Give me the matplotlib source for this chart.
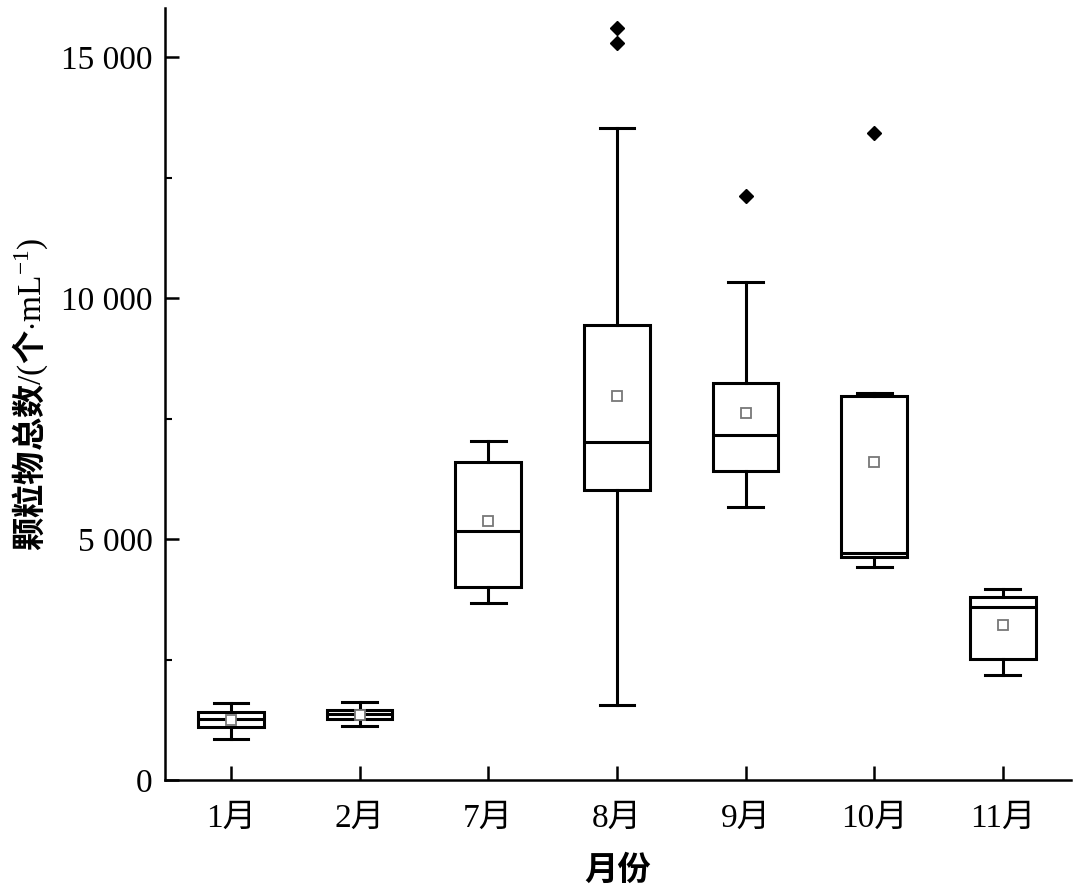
import matplotlib
matplotlib.use("Agg")
import matplotlib.pyplot as plt
from matplotlib.ticker import FixedLocator, FuncFormatter

months = ["1月", "2月", "7月", "8月", "9月", "10月", "11月"]
whislo = [850, 1120, 3670, 1560, 5660, 4420, 2180]
q1 = [1100, 1265, 4000, 6015, 6410, 4625, 2510]
med = [1265, 1370, 5165, 7010, 7155, 4710, 3590]
q3 = [1410, 1450, 6595, 9440, 8235, 7965, 3795]
whishi = [1600, 1620, 7030, 13520, 10330, 8030, 3960]
means = [1250, 1340, 5370, 7965, 7610, 6595, 3215]
fliers = [[], [], [], [15600, 15285], [12110], [13420], []]

plt.rcParams["mathtext.fontset"] = "custom"
plt.rcParams["mathtext.rm"] = "Liberation Serif"
plt.rcParams["mathtext.it"] = "Liberation Serif:italic"
plt.rcParams["mathtext.bf"] = "Liberation Serif:bold"

serif = ["Liberation Serif", "Noto Sans CJK SC"]
cjk = ["Noto Sans CJK SC", "Liberation Serif"]

fig = plt.figure(figsize=(10.8, 8.89), dpi=100)
ax = fig.add_axes([0.1528, 0.1226, 0.8389, 0.8684])

stats = []
for i in range(len(months)):
    stats.append(dict(label=months[i], whislo=whislo[i], q1=q1[i], med=med[i],
                      q3=q3[i], whishi=whishi[i], mean=means[i], fliers=fliers[i]))

pos = list(range(1, len(months) + 1))
ax.bxp(stats, positions=pos, widths=0.51, showmeans=True, patch_artist=True,
       boxprops=dict(facecolor="white", edgecolor="black", linewidth=2.2),
       whiskerprops=dict(color="black", linewidth=2.2),
       capprops=dict(color="black", linewidth=2.2),
       medianprops=dict(color="black", linewidth=2.2),
       meanprops=dict(marker="s", markerfacecolor="white", markeredgecolor="#777777",
                      markersize=6.5, markeredgewidth=1.3),
       flierprops=dict(marker="D", markerfacecolor="black", markeredgecolor="black",
                       markersize=7.5),
       capwidths=0.27)

ax.set_xlim(0.488, 7.53)
ax.set_ylim(0, 16017)

for s in ["top", "right"]:
    ax.spines[s].set_visible(False)
for s in ["left", "bottom"]:
    ax.spines[s].set_linewidth(1.8)

ax.yaxis.set_major_locator(FixedLocator([0, 5000, 10000, 15000]))
ax.yaxis.set_minor_locator(FixedLocator([2500, 7500, 12500]))
ax.yaxis.set_major_formatter(FuncFormatter(lambda v, p: f"{int(v):,}".replace(",", " ")))
ax.tick_params(axis="y", which="major", direction="in", length=10, width=1.8, pad=9)
ax.tick_params(axis="y", which="minor", direction="in", length=5, width=1.5)
ax.tick_params(axis="x", which="major", direction="in", length=10, width=1.8, pad=17)
ax.set_xticks(pos)
ax.set_xticklabels(months)
for lab in ax.get_yticklabels():
    lab.set_fontfamily(serif)
    lab.set_fontsize(24)
for lab in ax.get_xticklabels():
    lab.set_fontfamily(serif)
    lab.set_fontsize(24)

ax.set_xlabel("月份", fontfamily=cjk, fontsize=24, fontweight="bold", labelpad=14)
ax.set_ylabel(r"颗粒物总数$\mathrm{/(}$个$\mathrm{\cdot mL^{-1})}$", fontfamily=cjk,
              fontsize=24, fontweight="bold", labelpad=8)

fig.savefig("out.png", dpi=100)
